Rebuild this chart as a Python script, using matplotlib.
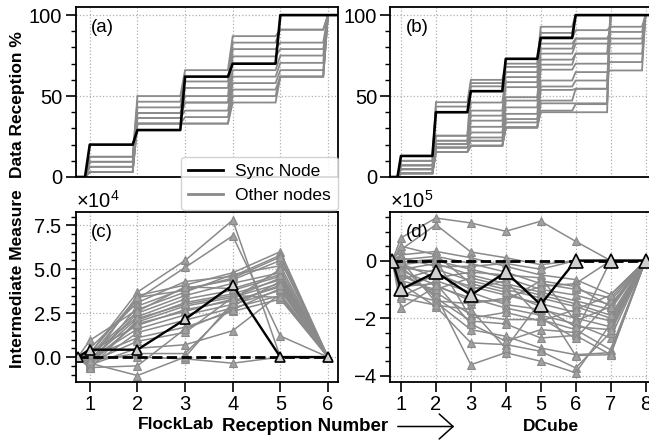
import matplotlib
matplotlib.use("Agg")
import matplotlib.pyplot as plt
from matplotlib.ticker import MultipleLocator, ScalarFormatter
from matplotlib.lines import Line2D

plt.rcParams['font.family'] = ['Liberation Sans', 'DejaVu Sans']
plt.rcParams['mathtext.fontset'] = 'custom'
plt.rcParams['mathtext.rm'] = 'Liberation Sans'
plt.rcParams['mathtext.it'] = 'Liberation Sans:italic'
plt.rcParams['mathtext.bf'] = 'Liberation Sans:bold'

# ---------------- data ----------------
# (a) FlockLab data reception % : level reached after each reception step
flock_sync_levels = [20, 29, 62, 70, 100]
flock_other_levels = [
    [12.5, 50, 66, 87, 91, 100],
    [12.5, 46.5, 59, 83, 91, 100],
    [9.4, 43, 55, 79, 83, 100],
    [9.4, 39.5, 50, 74.5, 79, 100],
    [6.3, 39.5, 46, 66, 75, 100],
    [6.3, 36.5, 46, 62, 70.5, 100],
    [3.1, 36.5, 41, 58, 66, 100],
    [3.1, 33, 37, 54, 62, 100],
    [3.1, 33, 33, 50, 62, 100],
    [3.1, 33, 33, 46, 62, 100],
]
# (b) DCube data reception %
dcube_sync_levels = [13, 40, 53, 73, 86, 100]
dcube_other_levels = [
    [10, 46.2, 60, 70, 92.8, 100, 100, 100],
    [10, 43.5, 58, 68, 89, 100, 100, 100],
    [7.2, 25.5, 56, 64.8, 85.5, 90.7, 92.8, 100],
    [7.2, 25.5, 46, 61.7, 82.4, 85.5, 89.6, 100],
    [7.2, 22.4, 41, 58.6, 79.3, 85.5, 85.5, 100],
    [4.8, 22.4, 37.9, 55.5, 76.2, 82.4, 82.4, 100],
    [4.8, 20.3, 34.8, 49.3, 72.5, 76.2, 76.2, 100],
    [4.8, 20.3, 31, 47.2, 69.4, 76.2, 100, 100],
    [4.8, 20.3, 27.5, 43, 66.3, 70, 71, 100],
    [2.3, 18.2, 24.4, 39, 59.6, 64.8, 65.8, 100],
    [2.3, 18.2, 22.4, 35.8, 55.9, 59.6, 100, 100],
    [2.3, 18.2, 22.4, 33.7, 53.8, 54.5, 100, 100],
    [2.3, 15.5, 19.3, 30.6, 47.2, 54.5, 100, 100],
    [2.3, 15.5, 19.3, 30.6, 45.5, 45.5, 100, 100],
    [2.3, 15.5, 19.3, 30.6, 41, 45, 100, 100],
    [2.3, 15.5, 19.3, 30.6, 40, 40, 100, 100],
]

# (c) FlockLab intermediate measure (x 1e4), start point + receptions 1..6
flock_x = [0.75, 1, 2, 3, 4, 5, 6]
flock_sync_measure = [0, 0.42, 0.42, 2.15, 4.1, 0, 0]
flock_other_measure = [
    [0, 0.2, 3.7, 5.5, 7.8, 0.0, 0],
    [0, 0.0, 3.3, 5.1, 6.9, 1.2, 0],
    [0, -0.3, 3.5, 4.1, 4.8, 6.0, 0],
    [0, 0.5, 3.1, 4.3, 4.6, 5.8, 0],
    [0, -0.5, 2.9, 3.9, 4.4, 5.5, 0],
    [0, 0.95, 2.7, 3.7, 4.7, 5.2, 0],
    [0, -0.2, 2.5, 3.5, 4.2, 4.8, 0],
    [0, 0.1, 2.3, 3.3, 3.8, 4.6, 0],
    [0, -0.65, 2.1, 3.1, 3.6, 4.4, 0],
    [0, -0.4, 2.0, 2.9, 3.4, 4.2, 0],
    [0, 0.3, 1.8, 2.7, 3.2, 4.0, 0],
    [0, -0.1, 1.6, 2.4, 3.0, 3.8, 0],
    [0, -0.55, 1.4, 2.1, 2.8, 3.5, 0],
    [0, 0.0, 1.1, 1.7, 2.6, 3.3, 0],
    [0, -0.3, 0.9, 1.4, 3.4, 4.5, 0],
    [0, -0.45, 0.5, 0.7, 1.5, 3.6, 0],
    [0, -0.2, 0.2, 0.2, 2.9, 4.3, 0],
    [0, 0.0, 0.0, -0.1, -0.35, 0.0, 0],
    [0, -0.6, -0.5, 1.6, 2.7, 3.9, 0],
    [0, -0.35, -1.05, 0.0, 3.1, 4.1, 0],
    [0, 0.2, 3.4, 3.8, 4.5, 5.7, 0],
    [0, -0.15, 2.2, 3.0, 3.5, 3.4, 0],
    [0, 0.1, 2.6, 4.0, 3.9, 4.7, 0],
    [0, -0.25, 1.9, 2.6, 3.3, 5.0, 0],
]
flock_scale = 1e4

# (d) DCube intermediate measure (x 1e5), start point + receptions 1..8
dcube_x = [0.75, 1, 2, 3, 4, 5, 6, 7, 8]
dcube_sync_measure = [0, -1.0, -0.4, -1.2, -0.4, -1.53, 0, 0, 0]
dcube_other_measure = [
    [0, 0.79, 1.48, 1.31, 1.02, 1.37, 0.67, 0, 0],
    [0, 0.38, 1.25, 0.3, 0.1, -0.14, 0, 0, 0],
    [0, 0.2, 0.32, 0.1, -0.2, -0.5, -0.66, -1.18, 0],
    [0, 0.03, 0.15, -0.1, -0.4, -0.8, -1.0, -1.3, 0],
    [0, -0.14, 0.0, -0.3, -0.6, -1.0, -1.2, -1.53, 0],
    [0, -0.31, -0.1, -0.5, -0.8, -1.1, -1.4, -1.7, 0],
    [0, -0.66, -0.3, -0.7, -1.0, -1.3, -1.6, -2.0, 0],
    [0, -1.0, -0.5, -0.9, -1.2, -1.5, -1.8, -2.1, 0],
    [0, -1.24, -0.7, -1.1, -1.53, -1.7, -2.0, -2.3, 0],
    [0, -1.65, -0.9, -1.3, -1.65, -1.9, -2.2, -2.69, 0],
    [0, -0.5, -1.1, -1.88, -2.05, -2.05, -2.4, -3.1, 0],
    [0, -0.2, -1.3, -2.1, -2.2, -2.69, -2.6, -3.27, 0],
    [0, 0.0, -1.45, -2.4, -2.63, -3.04, -3.27, -3.2, 0],
    [0, -0.8, -1.6, -2.86, -2.92, -3.15, -3.73, -2.5, 0],
    [0, -0.4, -1.2, -3.62, -3.2, -3.5, -3.9, -2.2, 0],
    [0, -0.9, -0.8, -2.2, -2.8, -2.4, -2.5, 0, 0],
    [0, 0.1, -0.2, -0.2, -0.1, -0.3, 0, 0, 0],
    [0, -0.1, -0.6, -0.4, -0.5, -0.6, -2.1, -1.6, 0],
    [0, -0.7, -1.0, -0.6, -0.9, -1.2, -1.5, -1.9, 0],
    [0, -1.1, -1.4, -1.5, -1.3, -0.9, -0.8, 0, 0],
    [0, 0.5, 0.2, -0.8, -1.1, -1.6, -2.3, -2.4, 0],
    [0, -0.25, -0.4, -1.0, -0.7, -2.0, -2.7, -1.4, 0],
    [0, -1.3, -1.55, -1.7, -3.05, -1.4, -3.3, -3.27, 0],
    [0, -0.05, 0.05, -2.0, -1.8, -2.1, -1.7, -1.2, 0],
    [0, -0.35, -0.85, -1.4, -1.4, -0.7, -0.9, -1.6, 0],
]
dcube_scale = 1e5

panel_labels = ["(a)", "(b)", "(c)", "(d)"]
legend_labels = ["Sync Node", "Other nodes"]

# ---------------- style ----------------
GRAY = "#8a8a8a"
W, H = 649, 441
fig = plt.figure(figsize=(W / 100, H / 100), dpi=100)

def frac(x0, y0, x1, y1):
    return [x0 / W, 1 - y1 / H, (x1 - x0) / W, (y1 - y0) / H]

ax_a = fig.add_axes(frac(75.5, 7, 337.5, 177))
ax_b = fig.add_axes(frac(390.5, 7, 652.5, 177))
ax_c = fig.add_axes(frac(75.5, 212, 337.5, 382))
ax_d = fig.add_axes(frac(390.5, 212, 652.5, 382))

STEP_W = 0.1  # width of the ramp at each reception

def step_xy(levels, x0, x1):
    xs, ys = [x0], [0]
    for k, lv in enumerate(levels, start=1):
        xs += [k - STEP_W, k]
        ys += [ys[-1], lv]
    xs.append(x1)
    ys.append(ys[-1])
    return xs, ys

def style(ax, xmax):
    for s in ax.spines.values():
        s.set_linewidth(1.3)
    ax.set_axisbelow(True)
    ax.grid(True, which='major', linestyle=':', color='#b0b0b0', lw=0.9)
    ax.tick_params(axis='both', which='major', labelsize=14.5, length=7, width=1.2, pad=2.5)
    ax.tick_params(axis='y', which='minor', length=3.5, width=1.0)
    ax.set_xticks(range(1, xmax + 1))

# top panels
for ax, sync, others, nmax in [(ax_a, flock_sync_levels, flock_other_levels, 6),
                               (ax_b, dcube_sync_levels, dcube_other_levels, 8)]:
    x0, x1 = 0.7, nmax + 0.2
    for lv in others:
        xs, ys = step_xy(lv, x0, x1)
        ax.plot(xs, ys, color=GRAY, lw=1.3, solid_joinstyle='miter')
    xs, ys = step_xy(sync, x0, x1)
    ax.plot(xs, ys, color='black', lw=1.9)
    style(ax, nmax)
    ax.set_xlim(x0, x1)
    ax.set_ylim(0, 105)
    ax.set_yticks([0, 50, 100])
    ax.yaxis.set_minor_locator(MultipleLocator(10))
    ax.tick_params(axis='x', length=0, labelbottom=False)

# bottom panels
for ax, xv, sync, others, scale, nmax, ylim, yt, minor, msz in [
        (ax_c, flock_x, flock_sync_measure, flock_other_measure, flock_scale, 6,
         (-1.42, 8.26), [0, 2.5, 5.0, 7.5], 0.5, 7),
        (ax_d, dcube_x, dcube_sync_measure, dcube_other_measure, dcube_scale, 8,
         (-4.22, 1.69), [-4, -2, 0], 0.5, 10)]:
    for vals in others:
        ax.plot(xv, [v * scale for v in vals], color=GRAY, lw=1.1, marker='^',
                ms=5.5, mfc='#a0a0a0', mec=GRAY, mew=0.8)
    ax.plot([xv[0], xv[-1]], [0, 0], color='black', lw=2, ls='--')
    ax.plot(xv, [v * scale for v in sync], color='black', lw=1.7, marker='^',
            ms=msz, mfc='#cfcfcf', mec='black', mew=1.2)
    style(ax, nmax)
    ax.set_xlim(0.7, nmax + 0.2)
    ax.set_ylim(ylim[0] * scale, ylim[1] * scale)
    ax.set_yticks([t * scale for t in yt])
    ax.yaxis.set_minor_locator(MultipleLocator(minor * scale))
    fmt = ScalarFormatter(useMathText=True)
    fmt.set_powerlimits((0, 0))
    ax.yaxis.set_major_formatter(fmt)
    ax.yaxis.get_offset_text().set_fontsize(14.5)

for ax, lab in zip([ax_a, ax_b, ax_c, ax_d], panel_labels):
    ax.text(0.06, 0.88, lab, transform=ax.transAxes, fontsize=13.5, va='center', ha='left')

# legend
handles = [Line2D([], [], color='black', lw=2), Line2D([], [], color=GRAY, lw=2)]
fig.legend(handles, legend_labels, loc='upper right',
           bbox_to_anchor=(337.7 / W, 1 - 156.7 / H), borderaxespad=0,
           fontsize=12.5, handlelength=2.0, handletextpad=0.7,
           framealpha=0.85, edgecolor='#cccccc')

# axis labels
fig.text(18 / W, 1 - 104.5 / H, "Data Reception %", rotation=90, fontsize=12.5,
         fontweight='bold', ha='center', va='center')
fig.text(18 / W, 1 - 279 / H, "Intermediate Measure", rotation=90, fontsize=12.5,
         fontweight='bold', ha='center', va='center')
fig.text(176 / W, 1 - 429 / H, "FlockLab", fontsize=12.5, fontweight='bold',
         ha='center', va='baseline')
fig.text(222 / W, 1 - 431 / H, "Reception Number", fontsize=13.5, fontweight='bold',
         ha='left', va='baseline')
fig.text(551 / W, 1 - 431 / H, "DCube", fontsize=12.5, fontweight='bold',
         ha='center', va='baseline')
fig.add_artist(matplotlib.patches.FancyArrowPatch(
    (395 / W, 1 - 426.5 / H), (457 / W, 1 - 426.5 / H), transform=fig.transFigure,
    arrowstyle='->,head_length=0.5,head_width=0.45', mutation_scale=20,
    lw=1.1, color='black'))

fig.savefig("out.png", dpi=100)
